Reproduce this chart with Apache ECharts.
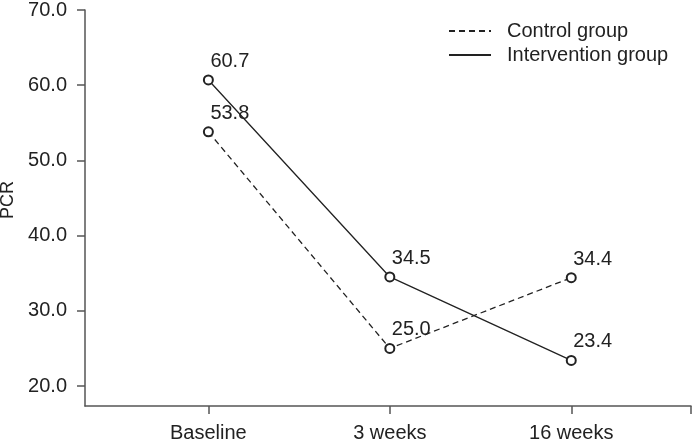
<!DOCTYPE html>
<html>
<head>
<meta charset="utf-8">
<script src="https://cdn.jsdelivr.net/npm/echarts@6/dist/echarts.min.js"></script>
<style>
  html, body { margin: 0; padding: 0; background: #fff; }
  #main { width: 696px; height: 447px; }
</style>
</head>
<body>
<div id="main"></div>
<script>
var categories = ['Baseline', '3 weeks', '16 weeks'];
var controlGroup = [53.8, 25.0, 34.4];
var interventionGroup = [60.7, 34.5, 23.4];
var yTicks = [20, 30, 40, 50, 60, 70];

function toPoints(values) {
    return values.map(function (v, i) { return [i + 1, v]; });
}

var font = 'Liberation Sans, Arial, sans-serif';
var ink = '#222';
var axisGray = '#555';

var labelStyle = {
    show: true,
    position: 'top',
    align: 'left',
    distance: 3,
    offset: [2, 0],
    color: ink,
    fontSize: 20,
    fontFamily: font,
    formatter: function (p) { return p.value[1].toFixed(1); }
};

var myChart = echarts.init(document.getElementById('main'));
var option = {
    animation: false,
    grid: { left: 85, right: 5, top: 10, bottom: 41, outerBoundsMode: 'none', containLabel: false },
    legend: {
        orient: 'vertical',
        left: 448,
        top: 21,
        padding: 0,
        itemWidth: 42,
        itemHeight: 14,
        itemGap: 4,
        itemStyle: { opacity: 0 },
        textStyle: { color: ink, fontSize: 20, fontFamily: font, padding: [0, 0, 0, 11] },
        data: ['Control group', 'Intervention group']
    },
    xAxis: {
        type: 'value',
        min: 0.32,
        max: 3.66,
        splitLine: { show: false },
        axisLine: { show: true, lineStyle: { color: axisGray, width: 1.5 } },
        axisTick: { show: true, inside: false, length: 8, customValues: [1, 2, 3, 3.66], lineStyle: { color: axisGray, width: 1.5 } },
        axisLabel: {
            customValues: [1, 2, 3],
            margin: 17,
            color: ink,
            fontSize: 20,
            fontFamily: font,
            formatter: function (v) { return categories[Math.round(v) - 1]; }
        }
    },
    yAxis: {
        type: 'value',
        min: 17.34,
        max: 70,
        name: 'PCR',
        nameLocation: 'middle',
        nameGap: 64,
        nameTextStyle: { color: ink, fontSize: 18, fontFamily: font, padding: [0, 0, 0, 16] },
        splitLine: { show: false },
        axisLine: { show: true, lineStyle: { color: axisGray, width: 1.5 } },
        axisTick: { show: true, inside: false, length: 8, customValues: yTicks, lineStyle: { color: axisGray, width: 1.5 } },
        axisLabel: {
            customValues: yTicks,
            margin: 18,
            color: ink,
            fontSize: 20,
            fontFamily: font,
            formatter: function (v) { return v.toFixed(1); }
        }
    },
    series: [
        {
            name: 'Control group',
            type: 'line',
            data: toPoints(controlGroup),
            symbol: 'emptyCircle',
            symbolSize: 9,
            color: ink,
            lineStyle: { color: ink, width: 1.3, type: [6, 4] },
            itemStyle: { color: ink, borderWidth: 1.2 },
            label: labelStyle
        },
        {
            name: 'Intervention group',
            type: 'line',
            data: toPoints(interventionGroup),
            symbol: 'emptyCircle',
            symbolSize: 9,
            color: ink,
            lineStyle: { color: ink, width: 1.3 },
            itemStyle: { color: ink, borderWidth: 1.2 },
            label: labelStyle
        }
    ]
};
myChart.setOption(option);
</script>
</body>
</html>
